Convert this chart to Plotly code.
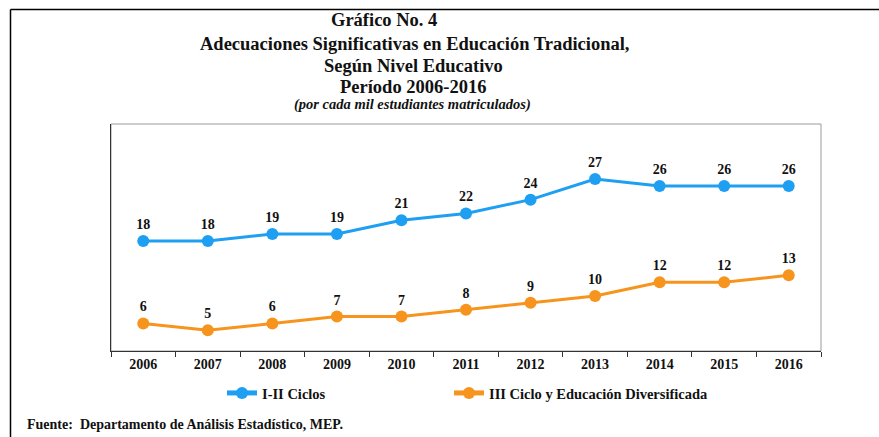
import plotly.graph_objects as go

years = ["2006", "2007", "2008", "2009", "2010", "2011", "2012", "2013", "2014", "2015", "2016"]
ciclos_1_2 = [18, 18, 19, 19, 21, 22, 24, 27, 26, 26, 26]
ciclo_3_div = [6, 5, 6, 7, 7, 8, 9, 10, 12, 12, 13]
series_names = ["I-II Ciclos", "III Ciclo y Educación Diversificada"]

W, H = 879, 437
L, R, T, B = 111, 821, 124, 351

def px_x(p):
    return (p - L) / (R - L)

def px_y(p):
    return (B - p) / (B - T)

FONT = "Liberation Serif"
BLUE = "#1E9FF2"
ORANGE = "#F7941D"

fig = go.Figure()
for name, vals, col, lg in [(series_names[0], ciclos_1_2, BLUE, "legend"),
                            (series_names[1], ciclo_3_div, ORANGE, "legend2")]:
    fig.add_trace(go.Scatter(
        x=years, y=vals, name=name, mode="lines+markers+text",
        line=dict(color=col, width=3),
        marker=dict(color=col, size=12),
        text=[str(v) for v in vals], textposition="top center",
        textfont=dict(family=FONT, size=14, color="#111111", weight="bold"),
        cliponaxis=False, legend=lg,
    ))

leg_common = dict(
    orientation="h", xanchor="left", y=px_y(393), yanchor="middle",
    font=dict(family=FONT, size=14.5, color="#111111", weight="bold"),
    itemwidth=30, itemsizing="constant", bgcolor="rgba(0,0,0,0)",
)

fig.update_layout(
    width=W, height=H,
    margin=dict(l=L, r=W - R, t=T, b=H - B, pad=0),
    paper_bgcolor="white", plot_bgcolor="white",
    font=dict(family=FONT, color="#111111"),
    showlegend=True,
    legend=dict(x=px_x(222), **leg_common),
    legend2=dict(x=px_x(449), **leg_common),
    xaxis=dict(
        type="category", showline=True, linecolor="#333333", linewidth=1,
        ticks="outside", tickson="boundaries", ticklen=5, tickcolor="#333333",
        showgrid=False, zeroline=False,
        tickfont=dict(family=FONT, size=14, color="#111111", weight="bold"),
        range=[-0.5, 10.5],
    ),
    yaxis=dict(
        range=[2, 35], showline=True, linecolor="#333333", linewidth=1,
        showticklabels=False, ticks="", showgrid=False, zeroline=False,
    ),
)

fig.add_shape(type="rect", xref="paper", yref="paper", x0=0, x1=1, y0=0, y1=1,
              line=dict(color="#9a9a9a", width=1), layer="below")
fig.add_shape(type="line", xref="paper", yref="paper",
              x0=px_x(10.5), x1=px_x(879), y0=px_y(9.5), y1=px_y(9.5),
              line=dict(color="#000000", width=1.5))
fig.add_shape(type="line", xref="paper", yref="paper",
              x0=px_x(10.5), x1=px_x(10.5), y0=px_y(9.5), y1=px_y(437),
              line=dict(color="#000000", width=1.5))

titles = [
    ("Gráfico No. 4", 20, 18.5, False, 384),
    ("Adecuaciones Significativas en Educación Tradicional,", 44, 18.5, False, 414),
    ("Según Nivel Educativo", 66, 18.5, False, 413),
    ("Período 2006-2016", 87, 18.5, False, 413),
    ("(por cada mil estudiantes matriculados)", 104, 14.5, True, 412),
]
for txt, yy, sz, ital, xx in titles:
    fig.add_annotation(
        text=txt, xref="paper", yref="paper", x=px_x(xx), y=px_y(yy),
        xanchor="center", yanchor="middle", showarrow=False,
        font=dict(family=FONT, size=sz, color="#111111", weight="bold",
                  style="italic" if ital else "normal"),
    )

fig.add_annotation(
    text="Fuente:  Departamento de Análisis Estadístico, MEP.",
    xref="paper", yref="paper", x=px_x(25), y=px_y(425),
    xanchor="left", yanchor="middle", showarrow=False,
    font=dict(family=FONT, size=14, color="#111111", weight="bold"),
)

fig.write_html("out.html", config={"displayModeBar": False},
               post_script="document.body.style.margin='0';document.body.style.overflow='hidden';")
